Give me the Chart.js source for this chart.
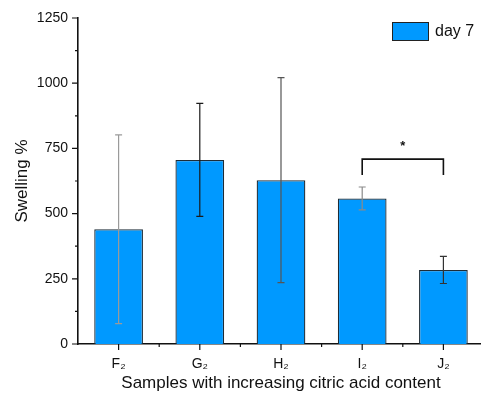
<!DOCTYPE html>
<html>
<head>
<meta charset="utf-8">
<script src="https://cdn.jsdelivr.net/npm/chart.js@4.4.0/dist/chart.umd.min.js"></script>
<style>
html,body{margin:0;padding:0;background:#fff;overflow:hidden;}
#wrap{width:484px;height:398px;}
</style>
</head>
<body>
<div id="wrap"><canvas id="c"></canvas></div>
<script>
const categories = ['F\u2082', 'G\u2082', 'H\u2082', 'I\u2082', 'J\u2082'];
const swelling = [440, 706, 628, 558, 284];
const errors = [362, 217, 393, 44, 52];
const yTicks = [0, 250, 500, 750, 1000, 1250];
const seriesLabel = 'day 7';
const errColors = ['#9a9a9a', '#1a1a1a', '#555555', '#8a8a8a', '#333333'];

const decor = {
  id: 'decor',
  afterDatasetsDraw(chart) {
    const ctx = chart.ctx;
    const x = chart.scales.x, y = chart.scales.y;
    const ca = chart.chartArea;
    ctx.save();
    // error bars
    swelling.forEach((v, i) => {
      const px = x.getPixelForValue(i);
      const top = y.getPixelForValue(v + errors[i]);
      const bot = y.getPixelForValue(v - errors[i]);
      ctx.strokeStyle = errColors[i];
      ctx.lineWidth = 1.2;
      ctx.beginPath();
      ctx.moveTo(px, top); ctx.lineTo(px, bot);
      ctx.moveTo(px - 3.5, top); ctx.lineTo(px + 3.5, top);
      ctx.moveTo(px - 3.5, bot); ctx.lineTo(px + 3.5, bot);
      ctx.stroke();
    });
    // significance bracket between I2 and J2
    const x1 = x.getPixelForValue(3), x2 = x.getPixelForValue(4);
    const yt = y.getPixelForValue(709), yb = y.getPixelForValue(648);
    ctx.strokeStyle = '#111';
    ctx.lineWidth = 1.6;
    ctx.beginPath();
    ctx.moveTo(x1, yb); ctx.lineTo(x1, yt); ctx.lineTo(x2, yt); ctx.lineTo(x2, yb);
    ctx.stroke();
    ctx.fillStyle = '#111';
    ctx.font = 'bold 13px "Liberation Sans", Arial, sans-serif';
    ctx.textAlign = 'center';
    ctx.textBaseline = 'middle';
    ctx.fillText('*', (x1 + x2) / 2, y.getPixelForValue(756));
    // axis ticks
    ctx.strokeStyle = '#111';
    ctx.lineWidth = 1.2;
    ctx.beginPath();
    for (let k = 0; k < yTicks.length; k++) {
      const py = y.getPixelForValue(yTicks[k]);
      ctx.moveTo(ca.left - 6, py); ctx.lineTo(ca.left, py);
      if (k < yTicks.length - 1) {
        const pm = y.getPixelForValue((yTicks[k] + yTicks[k + 1]) / 2);
        ctx.moveTo(ca.left - 3, pm); ctx.lineTo(ca.left, pm);
      }
    }
    const cw = (ca.right - ca.left) / categories.length;
    for (let i = 0; i < categories.length; i++) {
      const px = x.getPixelForValue(i);
      ctx.moveTo(px, ca.bottom); ctx.lineTo(px, ca.bottom + 6);
      if (i > 0) {
        const pb = px - cw / 2;
        ctx.moveTo(pb, ca.bottom); ctx.lineTo(pb, ca.bottom + 3);
      }
    }
    ctx.stroke();
    // legend
    const lx = 392, ly = 22;
    ctx.fillStyle = '#0099ff';
    ctx.fillRect(lx, ly, 37, 19);
    ctx.strokeStyle = '#222';
    ctx.lineWidth = 1;
    ctx.strokeRect(lx + 0.5, ly + 0.5, 36, 18);
    ctx.fillStyle = '#111';
    ctx.font = '16px "Liberation Sans", Arial, sans-serif';
    ctx.textAlign = 'left';
    ctx.fillText(seriesLabel, lx + 43, ly + 10);
    ctx.restore();
  }
};

const FONT = '"Liberation Sans", Arial, sans-serif';
new Chart(document.getElementById('c'), {
  type: 'bar',
  data: {
    labels: categories,
    datasets: [{
      label: seriesLabel,
      data: swelling,
      backgroundColor: '#0099ff',
      borderColor: '#1e2c36',
      borderWidth: 1.3,
      barPercentage: 0.6,
      categoryPercentage: 1.0
    }]
  },
  options: {
    responsive: true,
    maintainAspectRatio: false,
    animation: false,
    layout: { padding: { top: 18, right: 0, left: 0, bottom: 0 } },
    plugins: { legend: { display: false }, tooltip: { enabled: false } },
    scales: {
      x: {
        grid: { display: false },
        border: { display: true, color: '#111', width: 1.6 },
        ticks: { color: '#111', font: { family: FONT, size: 14 }, padding: 4 },
        title: { display: true, text: 'Samples with increasing citric acid content', color: '#111',
                 font: { family: FONT, size: 17 }, padding: { top: 0, bottom: 4 } },
        afterFit(s) { s.height = 54; }
      },
      y: {
        min: 0, max: 1250,
        afterBuildTicks(s) { s.ticks = yTicks.map(v => ({ value: v })); },
        grid: { display: false },
        border: { display: true, color: '#111', width: 1.6 },
        ticks: { color: '#111', font: { family: FONT, size: 14 }, padding: 2,
                 callback: (v) => String(v) },
        title: { display: true, text: 'Swelling %', color: '#111',
                 font: { family: FONT, size: 17 }, padding: { top: 12, bottom: 0 } },
        afterFit(s) { s.width = 78; }
      }
    }
  },
  plugins: [decor]
});
</script>
</body>
</html>
